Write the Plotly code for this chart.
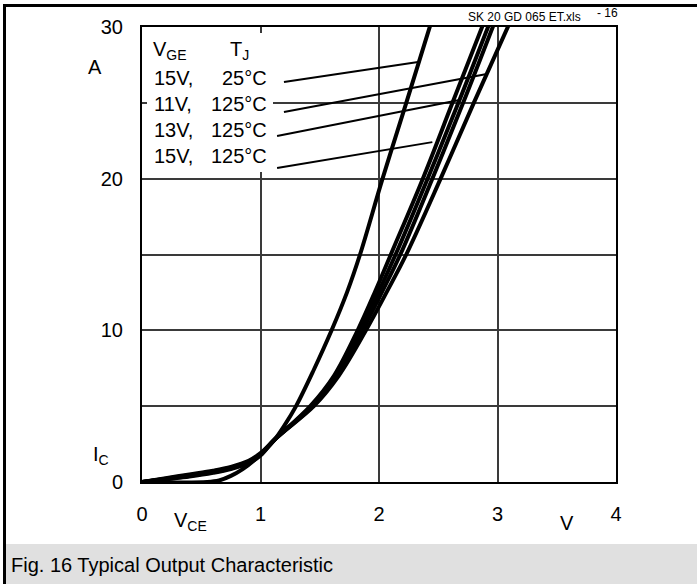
import plotly.graph_objects as go

# ---------------- data ----------------
vce_15v_25c = [0, 0.55, 0.65, 0.75, 0.85, 0.95, 1.05, 1.12, 1.2, 1.3, 1.45, 1.6, 1.73, 1.84, 2.03, 2.23, 2.44]
ic_15v_25c = [0, 0, 0.1, 0.4, 0.85, 1.45, 2.2, 2.8, 3.7, 5.0, 7.4, 10, 12.5, 15, 20, 25, 30.3]

vce_15v_125c = [0, 0.2, 0.4, 0.6, 0.75, 0.9, 1.0, 1.12, 1.42, 1.62, 1.82, 1.97, 2.10, 2.37, 2.62, 2.89]
ic_15v_125c = [0, 0.25, 0.5, 0.75, 1.0, 1.4, 1.9, 2.8, 5.0, 7.0, 10, 12.6, 15, 20, 25, 30.4]

vce_13v_125c = [0, 0.2, 0.4, 0.6, 0.75, 0.9, 1.0, 1.12, 1.43, 1.63, 1.84, 2.00, 2.14, 2.41, 2.67, 2.94]
ic_13v_125c = [0, 0.22, 0.45, 0.7, 0.95, 1.35, 1.85, 2.8, 5.0, 7.0, 10, 12.6, 15, 20, 25, 30.4]

vce_12v_125c = [0, 0.2, 0.4, 0.6, 0.75, 0.9, 1.0, 1.12, 1.44, 1.64, 1.86, 2.03, 2.18, 2.45, 2.71, 2.98]
ic_12v_125c = [0, 0.2, 0.4, 0.65, 0.9, 1.3, 1.8, 2.8, 5.0, 7.0, 10, 12.6, 15, 20, 25, 30.4]

vce_11v_125c = [0, 0.2, 0.4, 0.6, 0.75, 0.9, 1.0, 1.12, 1.45, 1.66, 1.89, 2.07, 2.23, 2.52, 2.80, 3.11]
ic_11v_125c = [0, 0.18, 0.36, 0.6, 0.85, 1.25, 1.75, 2.8, 5.0, 7.0, 10, 12.6, 15, 20, 25, 30.4]

x_ticks = [0, 1, 2, 3, 4]
y_ticks = [0, 10, 20, 30]
y_minor = [5, 15, 25]

legend_rows = [("15V,", "25\u00b0C"), ("11V,", "125\u00b0C"), ("13V,", "125\u00b0C"), ("15V,", "125\u00b0C")]
# pointer lines (from legend text to curve), data coordinates
pointer_x0 = [1.198, 1.198, 1.14, 1.14]
pointer_y0 = [26.37, 24.39, 22.81, 20.70]
pointer_x1 = [2.33, 2.91, 2.68, 2.45]
pointer_y1 = [27.69, 26.90, 25.18, 22.41]

# ---------------- layout helpers ----------------
W, H = 697, 584
L, R, T, B = 142, 616, 27, 482


def PX(px):
    return (px - L) / (R - L)


def PY(py):
    return (B - py) / (B - T)


FONT = "Liberation Sans, Arial, sans-serif"

fig = go.Figure()
series = [
    ("15V, 25\u00b0C", vce_15v_25c, ic_15v_25c),
    ("15V, 125\u00b0C", vce_15v_125c, ic_15v_125c),
    ("13V, 125\u00b0C", vce_13v_125c, ic_13v_125c),
    ("12V, 125\u00b0C", vce_12v_125c, ic_12v_125c),
    ("11V, 125\u00b0C", vce_11v_125c, ic_11v_125c),
]
for name, xs, ys in series:
    fig.add_trace(go.Scatter(x=xs, y=ys, mode="lines", name=name,
                             line=dict(color="black", width=4, shape="spline", smoothing=1.0),
                             showlegend=False, hoverinfo="skip"))

shapes = []
# white box behind the legend text
shapes.append(dict(type="rect", xref="paper", yref="paper", x0=PX(147), x1=PX(273), y0=PY(172), y1=PY(33),
                   fillcolor="white", line=dict(width=0), layer="above"))
for x0, y0, x1, y1 in zip(pointer_x0, pointer_y0, pointer_x1, pointer_y1):
    shapes.append(dict(type="line", xref="x", yref="y", x0=x0, y0=y0, x1=x1, y1=y1,
                       line=dict(color="black", width=2)))
# caption band
shapes.append(dict(type="rect", xref="paper", yref="paper", x0=PX(6), x1=PX(697), y0=PY(584), y1=PY(544),
                   fillcolor="#e0e0e0", line=dict(width=0), layer="below"))
# outer frame (top & left)
shapes.append(dict(type="line", xref="paper", yref="paper", x0=PX(3), x1=PX(697), y0=PY(5.5), y1=PY(5.5),
                   line=dict(color="black", width=3)))
shapes.append(dict(type="line", xref="paper", yref="paper", x0=PX(4.5), x1=PX(4.5), y0=PY(4), y1=PY(584),
                   line=dict(color="black", width=3)))

ann = []


def text(t, px, py, size=20, xanchor="center"):
    ann.append(dict(text=t, x=PX(px), y=PY(py), xref="paper", yref="paper", showarrow=False,
                    xanchor=xanchor, yanchor="middle", font=dict(family=FONT, size=size, color="black")))


text("A", 95, 67)
text("I<sub>C</sub>", 101, 455)
text("V<sub>CE</sub>", 190, 521)
text("V", 567, 523)
text("SK 20 GD 065 ET.xls", 583, 17, size=12, xanchor="right")
text("- 16", 595, 13, size=12, xanchor="left")
text("Fig. 16 Typical Output Characteristic", 9, 565, size=20, xanchor="left")
text("V<sub>GE</sub>", 151, 50, xanchor="left")
text("T<sub>J</sub>", 228, 50, xanchor="left")
row_y = [78, 104, 130, 156]
for (a, b), py in zip(legend_rows, row_y):
    text(a, 152, py, xanchor="left")
    text(b, 269, py, xanchor="right")

axis_common = dict(showgrid=True, gridcolor="#3a3a3a", gridwidth=1.5, showline=True, linecolor="black",
                   linewidth=2, mirror=True, zeroline=False, ticks="", ticklabelstandoff=13,
                   tickfont=dict(family=FONT, size=20, color="black"), fixedrange=True)

fig.update_layout(
    width=W, height=H,
    margin=dict(l=L, r=W - R, t=T, b=H - B, pad=0),
    paper_bgcolor="white", plot_bgcolor="white",
    xaxis=dict(range=[0, 4], tickvals=x_ticks, **axis_common),
    yaxis=dict(range=[0, 30], tickvals=y_ticks,
               minor=dict(tickvals=y_minor, showgrid=True, gridcolor="#3a3a3a", gridwidth=1.5),
               **axis_common),
    shapes=shapes, annotations=ann, showlegend=False,
)

fig.write_html("out.html", config={"displayModeBar": False},
               post_script="document.body.style.margin='0';document.body.style.overflow='hidden';")
